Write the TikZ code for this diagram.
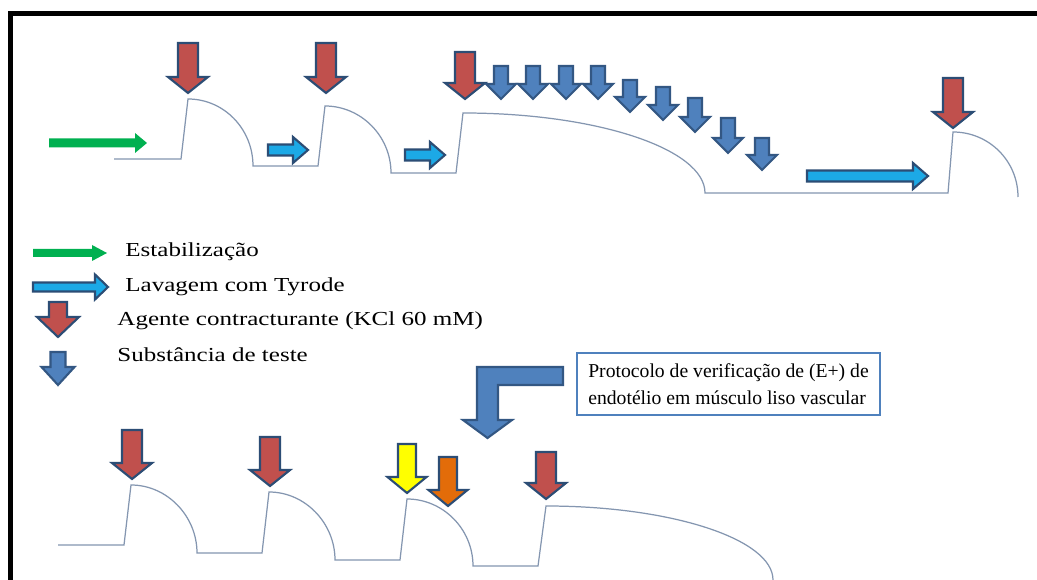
\documentclass[tikz,border=0pt]{standalone}
\usepackage{fontspec}
\setmainfont{Liberation Serif}
\usepackage{tikz}
\usetikzlibrary{positioning,calc}

\definecolor{kclred}{HTML}{C0504D}
\definecolor{testblue}{HTML}{4F81BD}
\definecolor{washcyan}{HTML}{1CA9E6}
\definecolor{stabgreen}{HTML}{00B050}
\definecolor{rimblue}{HTML}{2C4D75}
\definecolor{tracecol}{HTML}{8496B0}
\definecolor{yelfill}{HTML}{FFFF00}
\definecolor{orgfill}{HTML}{E36C09}

% vertical block arrow: style, x, top, tip, body half, head half, head length
\newcommand{\vblock}[7]{%
  \draw[#1] ({#2-#5},#3) -- ({#2+#5},#3) -- ({#2+#5},{#4-#7}) -- ({#2+#6},{#4-#7})
    -- (#2,#4) -- ({#2-#6},{#4-#7}) -- ({#2-#5},{#4-#7}) -- cycle;}
% horizontal block arrow: style, y, left, tip, body half, head half, head length
\newcommand{\hblock}[7]{%
  \draw[#1] (#3,{#2-#5}) -- ({#4-#7},{#2-#5}) -- ({#4-#7},{#2-#6}) -- (#4,#2)
    -- ({#4-#7},{#2+#6}) -- ({#4-#7},{#2+#5}) -- (#3,{#2+#5}) -- cycle;}

\begin{document}
\begin{tikzpicture}[x=0.02cm, y=-0.02cm,
    trace/.style={draw=tracecol, line width=0.7pt},
    kcl/.style={fill=kclred, draw=rimblue, line width=1.2pt},
    test/.style={fill=testblue, draw=rimblue!80!testblue, line width=1.2pt},
    wash/.style={fill=washcyan, draw=rimblue, line width=1.2pt},
    stab/.style={fill=stabgreen, draw=none},
    legend/.style={anchor=base west, inner sep=0pt, xscale=1.26,
      font=\fontsize{11.3}{13.5}\selectfont},
    protobox/.style={draw=testblue, line width=1.2pt, fill=white, align=left,
      minimum width=6.06cm, minimum height=1.24cm,
      inner xsep=0.1cm, font=\fontsize{11.2}{15.3}\selectfont}]
  \useasboundingbox (0,0) rectangle (1037,580);
  \fill[white] (0,0) rectangle (1037,580);
  \draw[line width=2.8pt] (10.5,580) -- (10.5,13.5) -- (1037,13.5);

  % upper recording
  \draw[trace] (114,159) -- (181,159) -- (188,99)
    .. controls (224,99) and (253,129) .. (253,166) -- (318,166) -- (325,106)
    .. controls (361,106) and (391,136) .. (391,173) -- (456,173) -- (463,113)
    .. controls (597,113) and (705,149) .. (705,193) -- (948,193) -- (953,132)
    .. controls (989,132) and (1018,161) .. (1018,197);

  \hblock{stab}{143}{49}{147}{4.5}{10}{12}
  \hblock{wash}{150}{268}{308}{5.5}{13}{15}
  \hblock{wash}{155}{405}{445}{5.5}{13}{15}
  \hblock{wash}{176}{807}{928}{5.5}{13}{15}

  \vblock{kcl}{188}{43}{93}{10}{20}{16}
  \vblock{kcl}{326}{43}{93}{10}{20}{16}
  \vblock{kcl}{465}{52}{99}{10}{20}{16}
  \vblock{kcl}{953}{78}{128}{10}{20}{16}
  \foreach \x/\t/\p in {501/66/99, 533/66/99, 566/66/99, 598/66/99, 630/80/112,
                        663/87/120, 695/98/132, 728/118/153, 762/138/170}
    {\vblock{test}{\x}{\t}{\p}{7}{15}{15}}

  % legend
  \hblock{stab}{253}{33}{107}{4}{8}{15}
  \hblock{wash}{287}{33}{108}{4.5}{12.5}{13}
  \vblock{kcl}{58}{302}{337}{9}{21}{20}
  \vblock{test}{58}{352}{385}{7.5}{16.5}{18}
  \node[legend] (lgstab) at (125,257) {Estabilização};
  \node[legend] (lglav) at (125,292) {Lavagem com Tyrode};
  \node[legend] (lgkcl) at (117,326) {Agente contracturante (KCl 60 mM)};
  \node[legend] (lgtest) at (117,362) {Substância de teste};

  % endothelium protocol
  \node[protobox] (proto) at (728.5,384) {Protocolo de verificação de (E+) de\\endotélio em músculo liso vascular};
  \draw[test] (563,367) -- (477,367) -- (477,420) -- (463,420) -- (487.5,438)
    -- (512,420) -- (498,420) -- (498,385) -- (563,385) -- cycle;

  % lower recording
  \draw[trace] (58,545) -- (124,545) -- (131,485)
    .. controls (167,485) and (197,516) .. (197,553) -- (262,553) -- (269,492)
    .. controls (305,492) and (335,523) .. (335,560) -- (400,560) -- (407,499)
    .. controls (443,499) and (473,529) .. (473,566) -- (538,566) -- (546,506)
    .. controls (671,506) and (773,539) .. (773,580);

  \vblock{kcl}{132}{430}{479}{10}{20}{16}
  \vblock{kcl}{270}{437}{486}{10}{20}{16}
  \vblock{fill=yelfill, draw=rimblue, line width=1.2pt}{407}{444}{493}{9}{19.5}{16}
  \vblock{fill=orgfill, draw=rimblue, line width=1.2pt}{448}{457}{506}{9}{19.5}{16}
  \vblock{kcl}{546}{452}{499}{10}{20}{16}
\end{tikzpicture}
\end{document}
